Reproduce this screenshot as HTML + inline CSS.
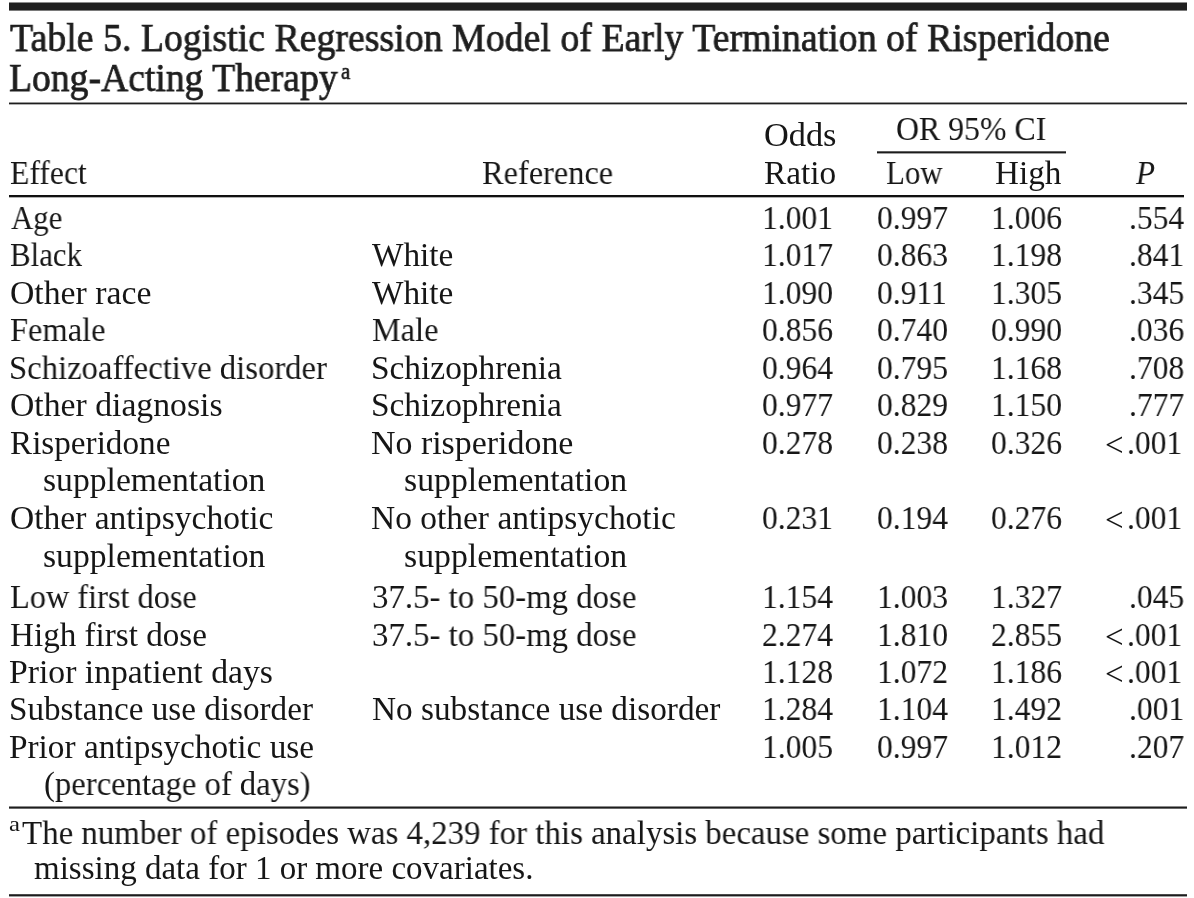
<!DOCTYPE html>
<html><head><meta charset="utf-8"><title>Table 5. Logistic Regression Model of Early Termination of Risperidone Long-Acting Therapy</title>
<style>
html,body{margin:0;padding:0;background:#fff;}
body{width:1194px;height:898px;position:relative;overflow:hidden;}
.t{position:absolute;font-family:"Liberation Serif",serif;font-size:33px;line-height:1;white-space:pre;color:#161616;transform-origin:0 0;will-change:transform;}
.rl{position:absolute;}
</style></head><body>
<div class="t" style="left:10.00px;top:18.30px;font-size:40.6px;color:#1e1e1e;-webkit-text-stroke:0.75px #1e1e1e;transform:scaleX(0.9329)">Table 5. Logistic Regression Model of Early Termination of Risperidone</div>
<div class="t" style="left:9.37px;top:58.00px;font-size:40.6px;color:#1e1e1e;-webkit-text-stroke:0.75px #1e1e1e;transform:scaleX(0.9277)">Long-Acting Therapy</div>
<div class="t" style="left:763.96px;top:119.00px;transform:scaleX(1.0397)">Odds</div>
<div class="t" style="left:896.04px;top:113.20px;transform:scaleX(0.9649)">OR 95% CI</div>
<div class="t" style="left:9.54px;top:156.80px;transform:scaleX(0.9595)">Effect</div>
<div class="t" style="left:481.62px;top:156.80px;transform:scaleX(0.9803)">Reference</div>
<div class="t" style="left:764.39px;top:156.70px;transform:scaleX(1.0087)">Ratio</div>
<div class="t" style="left:885.57px;top:156.70px;transform:scaleX(0.9350)">Low</div>
<div class="t" style="left:994.99px;top:156.70px;transform:scaleX(1.0062)">High</div>
<div class="t" style="left:1135.60px;top:156.60px;font-style:italic;transform:scaleX(0.9400)">P</div>
<div class="t" style="left:11.10px;top:201.50px;transform:scaleX(0.9352)">Age</div>
<div class="t" style="left:10.06px;top:239.00px;transform:scaleX(0.9355)">Black</div>
<div class="t" style="left:9.88px;top:276.50px;transform:scaleX(1.0226)">Other race</div>
<div class="t" style="left:10.32px;top:314.00px;transform:scaleX(0.9832)">Female</div>
<div class="t" style="left:8.92px;top:351.50px;transform:scaleX(0.9906)">Schizoaffective disorder</div>
<div class="t" style="left:9.88px;top:389.00px;transform:scaleX(1.0214)">Other diagnosis</div>
<div class="t" style="left:10.09px;top:427.00px;transform:scaleX(1.0057)">Risperidone</div>
<div class="t" style="left:42.98px;top:464.40px;transform:scaleX(1.0198)">supplementation</div>
<div class="t" style="left:10.08px;top:501.60px;transform:scaleX(1.0159)">Other antipsychotic</div>
<div class="t" style="left:42.98px;top:539.50px;transform:scaleX(1.0198)">supplementation</div>
<div class="t" style="left:9.92px;top:580.60px;transform:scaleX(0.9794)">Low first dose</div>
<div class="t" style="left:10.00px;top:618.50px;transform:scaleX(1.0041)">High first dose</div>
<div class="t" style="left:8.98px;top:655.80px;transform:scaleX(1.0211)">Prior inpatient days</div>
<div class="t" style="left:8.69px;top:693.30px;transform:scaleX(1.0050)">Substance use disorder</div>
<div class="t" style="left:9.39px;top:730.80px;transform:scaleX(1.0086)">Prior antipsychotic use</div>
<div class="t" style="left:43.61px;top:768.30px;transform:scaleX(0.9899)">(percentage of days)</div>
<div class="t" style="left:372.30px;top:239.00px;transform:scaleX(1.0087)">White</div>
<div class="t" style="left:372.30px;top:276.50px;transform:scaleX(1.0087)">White</div>
<div class="t" style="left:371.92px;top:314.00px;transform:scaleX(0.9788)">Male</div>
<div class="t" style="left:370.88px;top:351.50px;transform:scaleX(1.0113)">Schizophrenia</div>
<div class="t" style="left:370.88px;top:389.00px;transform:scaleX(1.0113)">Schizophrenia</div>
<div class="t" style="left:370.77px;top:427.00px;transform:scaleX(1.0272)">No risperidone</div>
<div class="t" style="left:404.28px;top:464.40px;transform:scaleX(1.0235)">supplementation</div>
<div class="t" style="left:370.79px;top:501.60px;transform:scaleX(1.0140)">No other antipsychotic</div>
<div class="t" style="left:404.28px;top:539.50px;transform:scaleX(1.0235)">supplementation</div>
<div class="t" style="left:371.71px;top:580.60px;transform:scaleX(0.9947)">37.5- to 50-mg dose</div>
<div class="t" style="left:371.71px;top:618.50px;transform:scaleX(0.9947)">37.5- to 50-mg dose</div>
<div class="t" style="left:371.69px;top:693.30px;transform:scaleX(1.0084)">No substance use disorder</div>
<div class="t" style="left:22.10px;top:816.80px;transform:scaleX(0.9967)">The number of episodes was 4,239 for this analysis because some participants had</div>
<div class="t" style="left:34.20px;top:852.00px">missing data for 1 or more covariates.</div>
<div class="t" style="left:762.24px;top:201.50px;transform:scaleX(0.9562)">1.001</div>
<div class="t" style="left:877.14px;top:201.50px;transform:scaleX(0.9562)">0.997</div>
<div class="t" style="left:990.83px;top:201.50px;transform:scaleX(0.9562)">1.006</div>
<div class="t" style="left:1128.50px;top:201.50px;transform:scaleX(0.9562)">.554</div>
<div class="t" style="left:762.24px;top:239.00px;transform:scaleX(0.9562)">1.017</div>
<div class="t" style="left:877.14px;top:239.00px;transform:scaleX(0.9562)">0.863</div>
<div class="t" style="left:990.83px;top:239.00px;transform:scaleX(0.9562)">1.198</div>
<div class="t" style="left:1128.50px;top:239.00px;transform:scaleX(0.9562)">.841</div>
<div class="t" style="left:762.24px;top:276.50px;transform:scaleX(0.9562)">1.090</div>
<div class="t" style="left:877.14px;top:276.50px;transform:scaleX(0.9562)">0.911</div>
<div class="t" style="left:990.83px;top:276.50px;transform:scaleX(0.9562)">1.305</div>
<div class="t" style="left:1128.50px;top:276.50px;transform:scaleX(0.9562)">.345</div>
<div class="t" style="left:762.24px;top:314.00px;transform:scaleX(0.9562)">0.856</div>
<div class="t" style="left:877.14px;top:314.00px;transform:scaleX(0.9562)">0.740</div>
<div class="t" style="left:990.83px;top:314.00px;transform:scaleX(0.9562)">0.990</div>
<div class="t" style="left:1128.50px;top:314.00px;transform:scaleX(0.9562)">.036</div>
<div class="t" style="left:762.24px;top:351.50px;transform:scaleX(0.9562)">0.964</div>
<div class="t" style="left:877.14px;top:351.50px;transform:scaleX(0.9562)">0.795</div>
<div class="t" style="left:990.83px;top:351.50px;transform:scaleX(0.9562)">1.168</div>
<div class="t" style="left:1128.50px;top:351.50px;transform:scaleX(0.9562)">.708</div>
<div class="t" style="left:762.24px;top:389.00px;transform:scaleX(0.9562)">0.977</div>
<div class="t" style="left:877.14px;top:389.00px;transform:scaleX(0.9562)">0.829</div>
<div class="t" style="left:990.83px;top:389.00px;transform:scaleX(0.9562)">1.150</div>
<div class="t" style="left:1128.50px;top:389.00px;transform:scaleX(0.9562)">.777</div>
<div class="t" style="left:762.24px;top:427.00px;transform:scaleX(0.9562)">0.278</div>
<div class="t" style="left:877.14px;top:427.00px;transform:scaleX(0.9562)">0.238</div>
<div class="t" style="left:990.83px;top:427.00px;transform:scaleX(0.9562)">0.326</div>
<div class="t" style="left:1127.35px;top:427.00px;transform:scaleX(0.9562)">.001</div>
<div class="t" style="left:1105.11px;top:429.00px;transform:scaleX(0.9933)">&lt;</div>
<div class="t" style="left:762.24px;top:501.60px;transform:scaleX(0.9562)">0.231</div>
<div class="t" style="left:877.14px;top:501.60px;transform:scaleX(0.9562)">0.194</div>
<div class="t" style="left:990.83px;top:501.60px;transform:scaleX(0.9562)">0.276</div>
<div class="t" style="left:1127.35px;top:501.60px;transform:scaleX(0.9562)">.001</div>
<div class="t" style="left:1105.11px;top:503.60px;transform:scaleX(0.9933)">&lt;</div>
<div class="t" style="left:762.24px;top:580.60px;transform:scaleX(0.9562)">1.154</div>
<div class="t" style="left:877.14px;top:580.60px;transform:scaleX(0.9562)">1.003</div>
<div class="t" style="left:990.83px;top:580.60px;transform:scaleX(0.9562)">1.327</div>
<div class="t" style="left:1128.50px;top:580.60px;transform:scaleX(0.9562)">.045</div>
<div class="t" style="left:762.24px;top:618.50px;transform:scaleX(0.9562)">2.274</div>
<div class="t" style="left:877.14px;top:618.50px;transform:scaleX(0.9562)">1.810</div>
<div class="t" style="left:990.83px;top:618.50px;transform:scaleX(0.9562)">2.855</div>
<div class="t" style="left:1127.35px;top:618.50px;transform:scaleX(0.9562)">.001</div>
<div class="t" style="left:1105.11px;top:620.50px;transform:scaleX(0.9933)">&lt;</div>
<div class="t" style="left:762.24px;top:655.80px;transform:scaleX(0.9562)">1.128</div>
<div class="t" style="left:877.14px;top:655.80px;transform:scaleX(0.9562)">1.072</div>
<div class="t" style="left:990.83px;top:655.80px;transform:scaleX(0.9562)">1.186</div>
<div class="t" style="left:1127.35px;top:655.80px;transform:scaleX(0.9562)">.001</div>
<div class="t" style="left:1105.11px;top:657.80px;transform:scaleX(0.9933)">&lt;</div>
<div class="t" style="left:762.24px;top:693.30px;transform:scaleX(0.9562)">1.284</div>
<div class="t" style="left:877.14px;top:693.30px;transform:scaleX(0.9562)">1.104</div>
<div class="t" style="left:990.83px;top:693.30px;transform:scaleX(0.9562)">1.492</div>
<div class="t" style="left:1128.50px;top:693.30px;transform:scaleX(0.9562)">.001</div>
<div class="t" style="left:762.24px;top:730.80px;transform:scaleX(0.9562)">1.005</div>
<div class="t" style="left:877.14px;top:730.80px;transform:scaleX(0.9562)">0.997</div>
<div class="t" style="left:990.83px;top:730.80px;transform:scaleX(0.9562)">1.012</div>
<div class="t" style="left:1128.50px;top:730.80px;transform:scaleX(0.9562)">.207</div>
<div class="t" style="left:341.00px;top:59.00px;font-size:24px;color:#1e1e1e;-webkit-text-stroke:0.7px #1e1e1e;transform:scaleX(0.8636)">a</div>
<div class="t" style="left:9.47px;top:813.40px;font-size:22px;transform:scaleX(1.1250)">a</div>
<div class="rl" style="left:9px;top:2px;width:1178px;height:9px;background:linear-gradient(to bottom,#8c8c8c 0px,#8c8c8c 1px,#202020 1px,#202020 2px,#202020 2px,#202020 3px,#202020 3px,#202020 4px,#202020 4px,#202020 5px,#202020 5px,#202020 6px,#202020 6px,#202020 7px,#202020 7px,#202020 8px,#7a7a7a 8px,#7a7a7a 9px)"></div>
<div class="rl" style="left:9px;top:102px;width:1178px;height:3px;background:linear-gradient(to bottom,#969696 0px,#969696 1px,#1e1e1e 1px,#1e1e1e 2px,#afafaf 2px,#afafaf 3px)"></div>
<div class="rl" style="left:877px;top:151px;width:189px;height:3px;background:linear-gradient(to bottom,#606060 0px,#606060 1px,#1c1c1c 1px,#1c1c1c 2px,#a0a0a0 2px,#a0a0a0 3px)"></div>
<div class="rl" style="left:9px;top:195px;width:1175px;height:3px;background:linear-gradient(to bottom,#0e0e0e 0px,#0e0e0e 1px,#121212 1px,#121212 2px,#b0b0b0 2px,#b0b0b0 3px)"></div>
<div class="rl" style="left:9px;top:806px;width:1178px;height:3px;background:linear-gradient(to bottom,#8a8a8a 0px,#8a8a8a 1px,#1e1e1e 1px,#1e1e1e 2px,#6a6a6a 2px,#6a6a6a 3px)"></div>
<div class="rl" style="left:9px;top:894px;width:1178px;height:3px;background:linear-gradient(to bottom,#4a4a4a 0px,#4a4a4a 1px,#1c1c1c 1px,#1c1c1c 2px,#a0a0a0 2px,#a0a0a0 3px)"></div>
</body></html>
